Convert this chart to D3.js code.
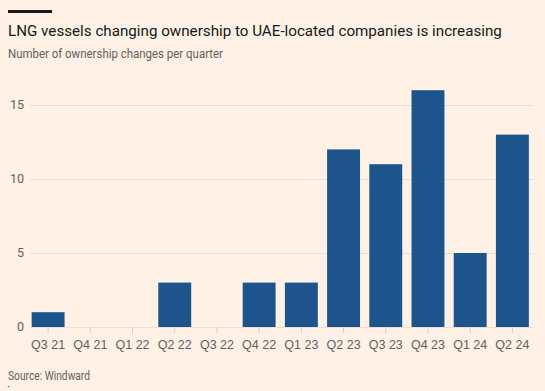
<!DOCTYPE html>
<html>
<head>
<meta charset="utf-8">
<script src="https://cdn.jsdelivr.net/npm/d3@7"></script>
<style>
  html, body { margin: 0; padding: 0; background: #fff1e5; }
  svg { display: block; font-family: Roboto, "Noto Sans", sans-serif; }
</style>
</head>
<body>
<div id="chart"></div>
<script>
// Quarterly ownership changes of LNG vessels to UAE-located companies
const QUARTERS = ["Q3 21","Q4 21","Q1 22","Q2 22","Q3 22","Q4 22","Q1 23","Q2 23","Q3 23","Q4 23","Q1 24","Q2 24"];
const CHANGES  = [1, 0, 0, 3, 0, 3, 3, 12, 11, 16, 5, 13];
const Y_TICKS  = [0, 5, 10, 15];

const totalW = 545, totalH = 391;
const margin = { left: 27, right: 533.5 };
const baseY = 327;

const svg = d3.select("#chart").append("svg")
  .attr("width", totalW).attr("height", totalH);

svg.append("rect").attr("width", totalW).attr("height", totalH).attr("fill", "#fff1e5");

// scale a text's font size so it spans about the width seen in the reference
function fitSize(sel, width) {
  const fs = +sel.attr("font-size");
  const w = sel.node().getComputedTextLength();
  if (w > 0) sel.attr("font-size", (fs * width / w).toFixed(2));
  return sel;
}
// mild horizontal squeeze (FT's font is a bit condensed)
function squeeze(sel, width) {
  return sel.attr("textLength", width).attr("lengthAdjust", "spacingAndGlyphs");
}

/* ── Header ── */
svg.append("rect").attr("x", 8).attr("y", 10).attr("width", 44).attr("height", 3).attr("fill", "#1a1817");
fitSize(svg.append("text").attr("x", 8).attr("y", 36)
  .attr("font-size", 17).attr("fill", "#1a1817")
  .text("LNG vessels changing ownership to UAE-located companies is increasing"), 494);
squeeze(svg.append("text").attr("x", 8).attr("y", 57.5)
  .attr("font-size", 12.5).attr("fill", "#66605c")
  .text("Number of ownership changes per quarter"), 215);

/* ── Scales ── */
const x = d3.scaleBand().domain(QUARTERS).range([margin.left, margin.right]).paddingInner(0.22).paddingOuter(0.11);
const y = d3.scaleLinear().domain([0, 15]).range([baseY, baseY - 15 * 14.8]);

/* ── Grid ── */
svg.append("g").attr("transform", `translate(30,0)`)
  .call(d3.axisLeft(y).tickValues(Y_TICKS).tickSize(-503).tickFormat(""))
  .call(ax => { ax.select(".domain").remove(); ax.selectAll("line").attr("stroke", "#ebdfd5").attr("stroke-width", 1); });

/* ── Y labels ── */
svg.append("g").selectAll("text").data(Y_TICKS).join("text")
  .attr("x", 24).attr("y", d => y(d)).attr("dy", "0.35em")
  .attr("text-anchor", "end").attr("font-size", 12.5).attr("fill", "#66605c")
  .text(d => d);

/* ── Bars ── */
svg.append("g").selectAll("rect").data(CHANGES).join("rect")
  .attr("x", (d, i) => x(QUARTERS[i]))
  .attr("y", d => y(d))
  .attr("width", x.bandwidth())
  .attr("height", d => y(0) - y(d))
  .attr("fill", "#1e548c");

/* ── X axis ── */
svg.append("g").attr("transform", `translate(0,${baseY})`)
  .call(d3.axisBottom(x).tickSize(6).tickPadding(7))
  .call(ax => {
    ax.select(".domain").remove();
    ax.selectAll("line").attr("stroke", "#d9cdc4");
    ax.selectAll("text").attr("font-size", 12.5).attr("fill", "#66605c").attr("font-family", "inherit");
  });

/* ── Footer ── */
squeeze(svg.append("text").attr("x", 8).attr("y", 380)
  .attr("font-size", 12).attr("fill", "#66605c")
  .text("Source: Windward"), 82);
svg.append("circle").attr("cx", 8.5).attr("cy", 386.5).attr("r", 0.8).attr("fill", "#66605c");
</script>
</body>
</html>
